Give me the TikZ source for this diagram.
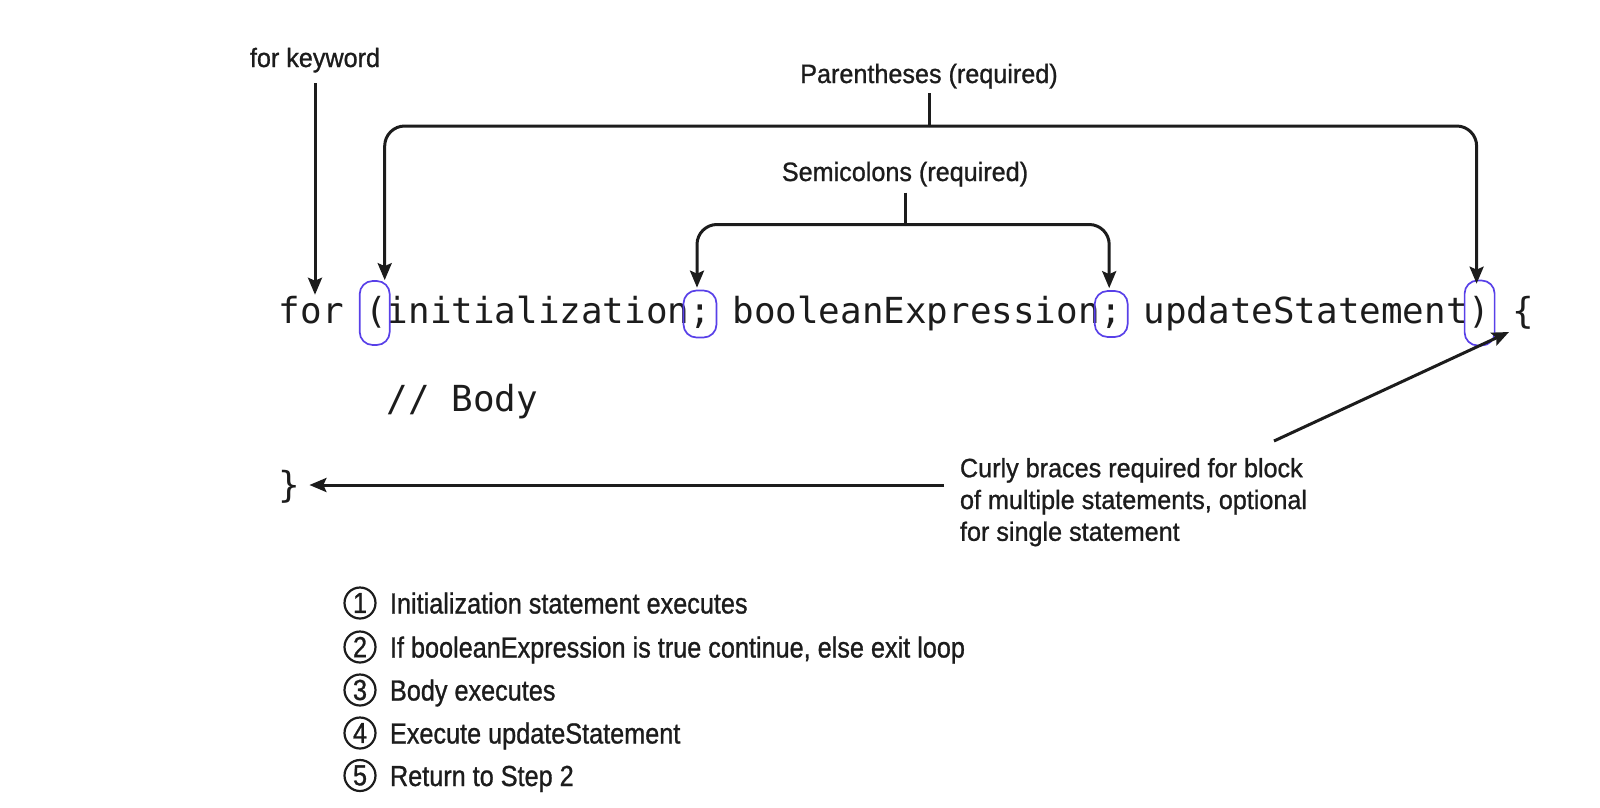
\documentclass[tikz,border=0pt]{standalone}
\usepackage{fontspec}
\setmainfont{Liberation Sans}
\newfontfamily\labf{Liberation Sans}[FakeStretch=0.95,FakeBold=1]
\newfontfamily\lstf{Liberation Sans}[FakeStretch=0.87,FakeBold=1]
\newfontfamily\codef{DejaVu Sans Mono}
\usetikzlibrary{arrows.meta}
\definecolor{ink}{RGB}{28,28,28}
\definecolor{hlblue}{RGB}{88,64,232}
\begin{document}
\begin{tikzpicture}[x=1pt,y=-1pt,
  code/.style={font=\codef\fontsize{35.88}{43}\selectfont, inner sep=0pt, outer sep=0pt, anchor=base west, text=ink},
  lab/.style={font=\labf\fontsize{26.5}{31.8}\selectfont, inner sep=0pt, outer sep=0pt, text=ink},
  lst/.style={font=\lstf\fontsize{29}{34}\selectfont, inner sep=0pt, outer sep=0pt, anchor=base west, text=ink},
  num/.style={circle, draw=ink, line width=2.2pt, minimum size=31pt, inner sep=0pt, font=\lstf\fontsize{29}{32}\selectfont, text=ink},
  hl/.style={draw=hlblue, line width=1.7pt, rounded corners=13pt, inner sep=0pt},
  arr/.style={draw=ink, line width=3pt, -{Stealth[length=17pt,width=14pt,inset=3pt]}},
  ln/.style={draw=ink, line width=3pt},
]
\useasboundingbox (0,0) rectangle (1600,808);

% code line
\node[code] (codefor) at (278.8,323) {for};
\node[code] (lp)      at (365.2,323) {(};
\node[code] (init)    at (386.8,323) {initialization};
\node[code] (sc1)     at (689.2,323) {;};
\node[code] (bexp)    at (732.4,323) {booleanExpression};
\node[code] (sc2)     at (1100.4,323) {;};
\node[code] (upd)     at (1143.6,323) {updateStatement};
\node[code] (rp)      at (1468.8,323) {)};
\node[code] (lb)      at (1512.0,323) {\{};
\node[code] (body)    at (386.8,411) {// Body};
\node[code] (rb)      at (278.8,497) {\}};

% blue highlights
\node[hl, minimum width=30pt, minimum height=64pt] (lpbox)  at ([xshift=9.5pt,yshift=10pt]lp.base west) {};
\node[hl, minimum width=33pt, minimum height=47pt] (sc1box) at ([xshift=10.8pt,yshift=9pt]sc1.base west) {};
\node[hl, minimum width=33pt, minimum height=46pt] (sc2box) at ([xshift=10.8pt,yshift=9pt]sc2.base west) {};
\node[hl, minimum width=30pt, minimum height=65pt] (rpbox)  at ([xshift=10.8pt,yshift=10pt]rp.base west) {};

% labels
\node[lab, anchor=base] (forkw)  at (315,67)  {for keyword};
\node[lab, anchor=base] (parlab) at (929,83)  {Parentheses (required)};
\node[lab, anchor=base] (semlab) at (905,181) {Semicolons (required)};
\node[lab, anchor=north west, align=left] (curly) at (960,458)
  {Curly braces required for block\\of multiple statements, optional\\for single statement};

% for keyword arrow
\draw[arr] ([yshift=-11pt]forkw.south) -- ([yshift=1pt]forkw.south |- codefor.north);

% parentheses bracket
\coordinate (pj) at (parlab.south |- 0,126);
\draw[ln] ([yshift=-5pt]parlab.south) -- (pj);
\draw[arr, rounded corners=20pt] (pj) -| ([xshift=10pt]lpbox.north);
\draw[arr, rounded corners=20pt] (pj) -| ([xshift=-3pt,yshift=-4pt]rpbox.north);

% semicolon bracket
\coordinate (sj) at (semlab.south |- 0,224.5);
\draw[ln] ([yshift=-6pt]semlab.south) -- (sj);
\draw[arr, rounded corners=20pt] (sj) -| ([xshift=-3pt,yshift=2pt]sc1box.north);
\draw[arr, rounded corners=20pt] (sj) -| ([xshift=-2pt,yshift=2pt]sc2box.north);

% curly brace arrows
\coordinate (cstart) at (1274,441);
\coordinate (lbtip) at ([xshift=-3pt,yshift=-9pt]lb.base west);
\draw[arr] (cstart) -- (lbtip);
\coordinate (hstart) at (944,485);
\coordinate (rbtip) at ([xshift=9pt]rb.base east);
\draw[arr] (hstart) -- (hstart -| rbtip);

% steps list
\node[num] (c1) at (360,603) {1};
\node[num] (c2) at (360,647) {2};
\node[num] (c3) at (360,690) {3};
\node[num] (c4) at (360,733) {4};
\node[num] (c5) at (360,775.5) {5};
\node[lst] (s1) at (390,613.5) {Initialization statement executes};
\node[lst] (s2) at (390,657.5) {If booleanExpression is true continue, else exit loop};
\node[lst] (s3) at (390,700.5) {Body executes};
\node[lst] (s4) at (390,743.5) {Execute updateStatement};
\node[lst] (s5) at (390,786) {Return to Step 2};
\end{tikzpicture}
\end{document}
